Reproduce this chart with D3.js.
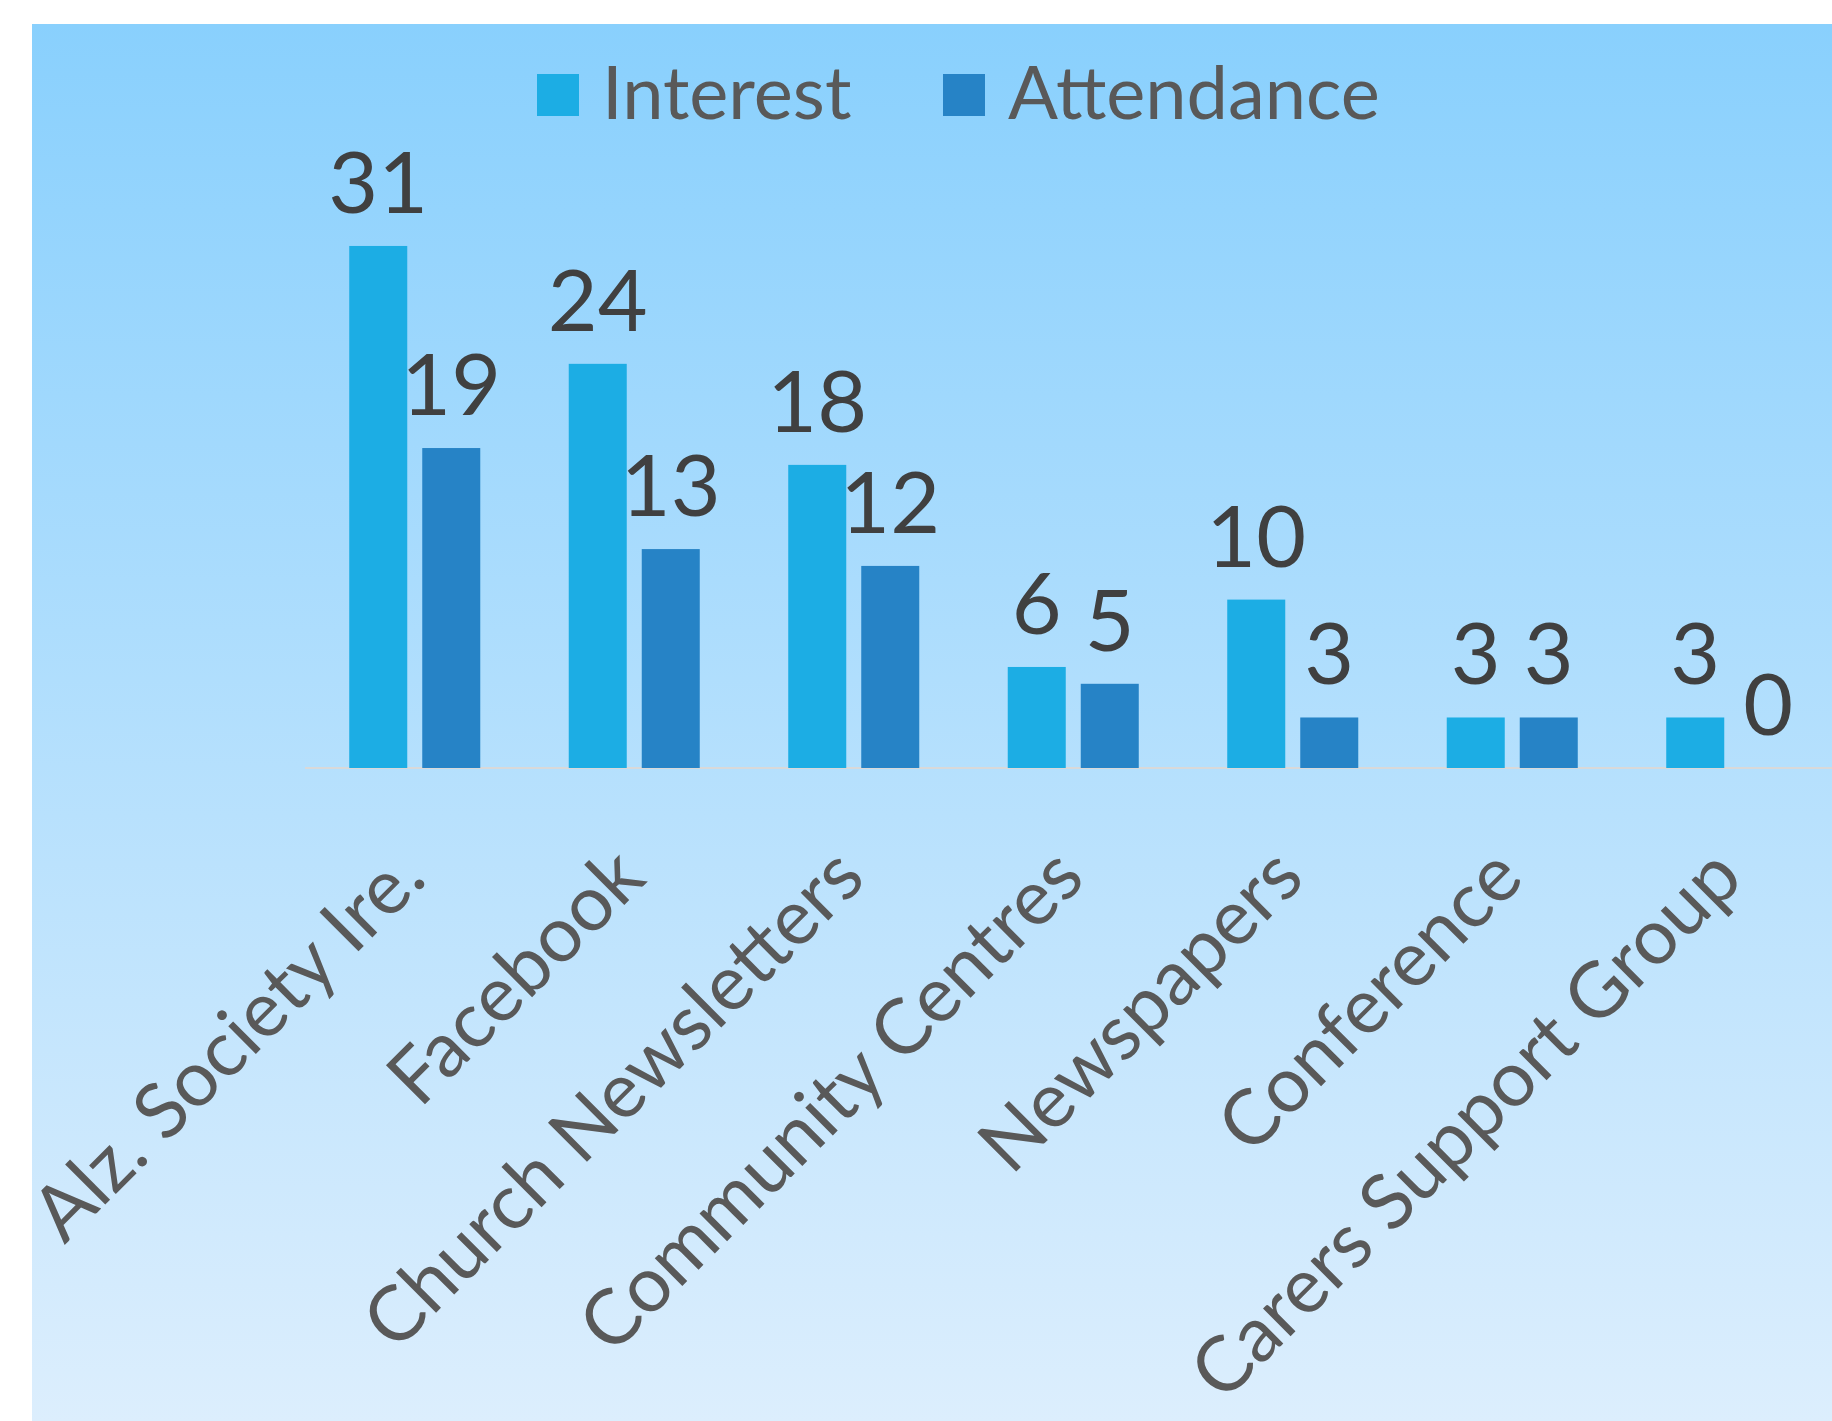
<!DOCTYPE html>
<html>
<head>
<meta charset="utf-8">
<script src="https://cdn.jsdelivr.net/npm/d3@7"></script>
<style>
    body { margin: 0; background: #fff; }
    svg { display: block; }
</style>
</head>
<body>
<div id="chart-container"></div>
<script>
// Data
const categories = ['Alz. Society Ire.', 'Facebook', 'Church Newsletters',
    'Community Centres', 'Newspapers', 'Conference', 'Carers Support Group'];
const seriesNames = ['Interest', 'Attendance'];
const interest = [31, 24, 18, 6, 10, 3, 3];
const attendance = [19, 13, 12, 5, 3, 3, 0];

const WIDTH = 1832;
const HEIGHT = 1421;
const FONT = 'Lato, "Open Sans", sans-serif';
const colors = d3.scaleOrdinal()
    .domain(seriesNames)
    .range(['#1CADE4', '#2683C6']);

const rows = categories.map((c, i) => ({ category: c, Interest: interest[i], Attendance: attendance[i] }));

const canvas = d3.select('#chart-container').append('svg')
    .attr('width', WIDTH)
    .attr('height', HEIGHT);

// Background panel with vertical gradient
const grad = canvas.append('defs').append('linearGradient')
    .attr('id', 'bg')
    .attr('x1', 0).attr('y1', 0).attr('x2', 0).attr('y2', 1);
grad.append('stop').attr('offset', '0%').attr('stop-color', '#89D0FD');
grad.append('stop').attr('offset', '100%').attr('stop-color', '#DCEEFD');
canvas.append('rect')
    .attr('x', 32).attr('y', 24)
    .attr('width', WIDTH - 32).attr('height', HEIGHT - 24)
    .attr('fill', 'url(#bg)');

// Scales
const plotLeft = 305;
const x0 = d3.scaleBand()
    .domain(categories)
    .range([plotLeft, plotLeft + 219.5 * categories.length]);
const x1 = d3.scaleBand()
    .domain(seriesNames)
    .range([0, x0.bandwidth()])
    .paddingInner(0.2055)
    .paddingOuter(0.606);
const yScale = d3.scaleLinear()
    .domain([0, 35])
    .range([768, 178.6]);

// Baseline
canvas.append('line')
    .attr('x1', plotLeft).attr('x2', WIDTH)
    .attr('y1', yScale(0)).attr('y2', yScale(0))
    .attr('stroke', '#D9D9D9')
    .attr('stroke-width', 2);

// Bars
const groups = canvas.selectAll('.group')
    .data(rows)
    .enter()
    .append('g')
        .attr('class', 'group')
        .attr('transform', d => `translate(${x0(d.category)},0)`);

groups.selectAll('rect.bar')
    .data(d => seriesNames.map(k => ({ key: k, value: d[k] })))
    .enter()
    .append('rect')
        .attr('class', 'bar')
        .attr('x', d => x1(d.key))
        .attr('width', x1.bandwidth())
        .attr('y', d => yScale(d.value))
        .attr('height', d => yScale(0) - yScale(d.value))
        .attr('fill', d => colors(d.key));

// Value labels
groups.selectAll('text.value')
    .data(d => seriesNames.map(k => ({ key: k, value: d[k] })))
    .enter()
    .append('text')
        .attr('class', 'value')
        .attr('x', d => x1(d.key) + x1.bandwidth() / 2)
        .attr('y', d => yScale(d.value) - 33)
        .attr('text-anchor', 'middle')
        .attr('font-family', FONT)
        .attr('font-size', 86)
        .attr('fill', '#404040')
        .text(d => d.value);

// Category labels, rotated
canvas.selectAll('text.category')
    .data(categories)
    .enter()
    .append('text')
        .attr('class', 'category')
        .attr('transform', d => `translate(${x0(d) + x0.bandwidth() / 2 + 14}, 881) rotate(-45)`)
        .attr('text-anchor', 'end')
        .attr('font-family', FONT)
        .attr('font-size', 77)
        .attr('fill', '#595959')
        .text(d => d);

// Legend
const legendX = [537, 943];
const legend = canvas.selectAll('.legend')
    .data(seriesNames)
    .enter()
    .append('g')
        .attr('class', 'legend')
        .attr('transform', (d, i) => `translate(${legendX[i]}, 74)`);
legend.append('rect')
    .attr('width', 42)
    .attr('height', 42)
    .attr('fill', d => colors(d));
legend.append('text')
    .attr('x', 65)
    .attr('y', 45)
    .attr('font-family', FONT)
    .attr('font-size', 74)
    .attr('fill', '#595959')
    .text(d => d);
</script>
</body>
</html>
